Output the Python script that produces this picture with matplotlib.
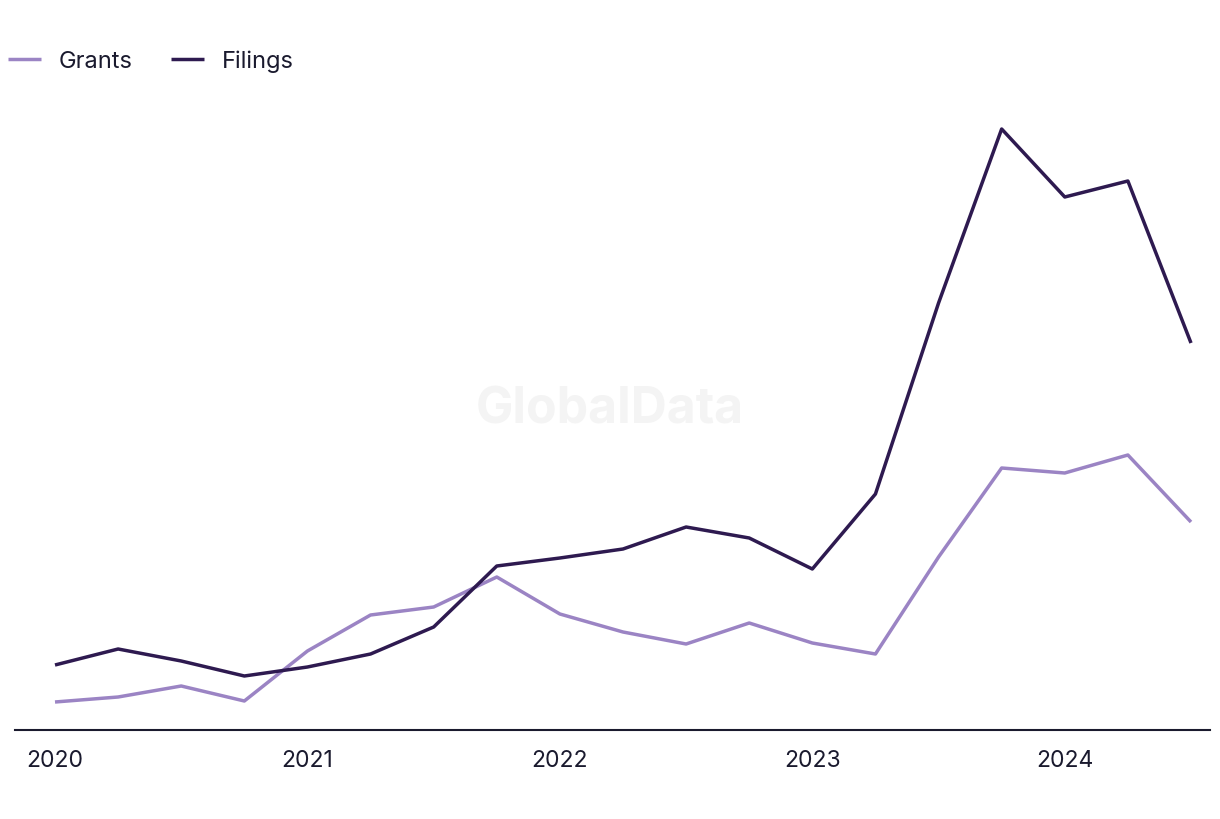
import matplotlib
matplotlib.use("Agg")
import matplotlib.pyplot as plt

quarters = ["2020Q1","2020Q2","2020Q3","2020Q4","2021Q1","2021Q2","2021Q3","2021Q4",
            "2022Q1","2022Q2","2022Q3","2022Q4","2023Q1","2023Q2","2023Q3","2023Q4",
            "2024Q1","2024Q2","2024Q3"]
filings = [65, 81, 69, 54, 63, 76, 103, 164, 172, 181, 203, 192, 161, 236, 427, 601, 533, 549, 387]
grants = [28, 33, 44, 29, 79, 115, 123, 153, 116, 98, 86, 107, 87, 76, 173, 262, 257, 275, 208]
year_labels = ["2020", "2021", "2022", "2023", "2024"]
year_positions = [0, 4, 8, 12, 16]

plt.rcParams['font.family'] = ['Inter', 'DejaVu Sans']

fig = plt.figure(figsize=(12.2, 8.2), dpi=100)
ax = fig.add_axes([15/1220, 1 - 731/820, (1210-15)/1220, (731-100)/820])

x = list(range(len(quarters)))
ax.plot(x, grants, color="#9b84c4", lw=2.5, label="Grants", solid_capstyle="butt")
ax.plot(x, filings, color="#2e1a50", lw=2.5, label="Filings", solid_capstyle="butt")

step = (1191 - 55) / 18
ax.set_xlim((15 - 55) / step, (1210 - 55) / step)
ax.set_ylim(0, 631)

for s in ["top", "right", "left"]:
    ax.spines[s].set_visible(False)
ax.spines["bottom"].set_color("#1a1a2e")
ax.spines["bottom"].set_linewidth(1.5)
ax.set_yticks([])
ax.set_xticks(year_positions)
ax.set_xticklabels(year_labels, fontsize=16.5, color="#1a1a2e")
ax.tick_params(axis="x", length=0, pad=14)

fig.text(610/1220, 1 - 410/820, "GlobalData", fontsize=36, fontweight="bold",
         color="#f4f4f4", ha="center", va="center", zorder=0)

leg = fig.legend(loc="center left", bbox_to_anchor=(0.0, 1 - 62/820), ncol=2, frameon=False,
                 fontsize=17, handlelength=1.4, handletextpad=0.75, columnspacing=1.6,
                 borderaxespad=0, borderpad=0.35)
for t in leg.get_texts():
    t.set_color("#1a1a2e")

fig.savefig("out.png", dpi=100, facecolor="white")
